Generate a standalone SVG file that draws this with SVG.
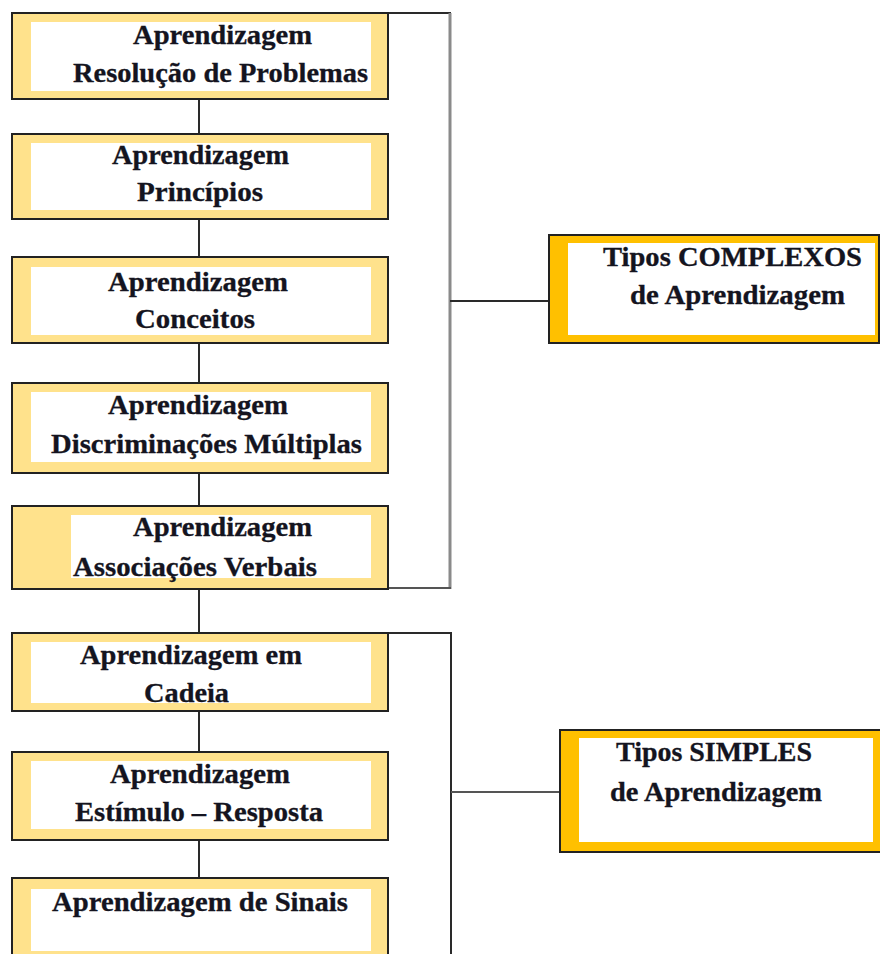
<svg xmlns="http://www.w3.org/2000/svg" width="880" height="954" viewBox="0 0 880 954">
  <style>
    .box { fill: #FFE28C; stroke: #222; stroke-width: 2; }
    .gold { fill: #FFC000; stroke: #222; stroke-width: 2; }
    .inner { fill: #FFFFFF; }
    .lbl { font-family: "Liberation Serif", "Times New Roman", serif; font-weight: bold; font-size: 27px; fill: #141420; stroke: #141420; stroke-width: 0.3; }
    .link { stroke: #2a2a2a; stroke-width: 2; fill: none; }
    .gray { stroke: #8a8a8a; stroke-width: 3; fill: none; }
    .grayThin { stroke: #555; stroke-width: 2; fill: none; }
  </style>

  <!-- connectors -->
  <g id="connectors">
    <!-- chain between the learning boxes -->
    <line class="link" x1="199" y1="99" x2="199" y2="134"/>
    <line class="link" x1="199" y1="219" x2="199" y2="257"/>
    <line class="link" x1="199" y1="343" x2="199" y2="383"/>
    <line class="link" x1="199" y1="473" x2="199" y2="506"/>
    <line class="link" x1="199" y1="589" x2="199" y2="633"/>
    <line class="link" x1="199" y1="711" x2="199" y2="752"/>
    <line class="link" x1="199" y1="840" x2="199" y2="878"/>
    <!-- bracket for the complex types -->
    <line class="link" x1="388" y1="13" x2="451" y2="13"/>
    <line class="gray" x1="450" y1="13" x2="450" y2="589"/>
    <line class="grayThin" x1="388" y1="588" x2="451" y2="588"/>
    <line class="link" x1="450" y1="301" x2="549" y2="301"/>
    <!-- bracket for the simple types -->
    <line class="link" x1="388" y1="633" x2="452" y2="633"/>
    <line class="link" x1="451" y1="633" x2="451" y2="960"/>
    <line class="grayThin" x1="451" y1="792" x2="560" y2="792"/>
  </g>

  <g id="resolucao">
    <rect class="box" x="12" y="13" width="376" height="86"/>
    <rect class="inner" x="31" y="22" width="340" height="69"/>
    <text class="lbl" x="133" y="44" textLength="179" lengthAdjust="spacingAndGlyphs">Aprendizagem</text>
    <text class="lbl" x="73" y="82" textLength="295" lengthAdjust="spacingAndGlyphs">Resolução de Problemas</text>
  </g>

  <g id="principios">
    <rect class="box" x="12" y="134" width="376" height="85"/>
    <rect class="inner" x="31" y="143" width="340" height="67"/>
    <text class="lbl" x="112" y="164" textLength="177" lengthAdjust="spacingAndGlyphs">Aprendizagem</text>
    <text class="lbl" x="137" y="201" textLength="126" lengthAdjust="spacingAndGlyphs">Princípios</text>
  </g>

  <g id="conceitos">
    <rect class="box" x="12" y="257" width="376" height="86"/>
    <rect class="inner" x="31" y="267" width="340" height="68"/>
    <text class="lbl" x="108" y="291" textLength="180" lengthAdjust="spacingAndGlyphs">Aprendizagem</text>
    <text class="lbl" x="135" y="328" textLength="120" lengthAdjust="spacingAndGlyphs">Conceitos</text>
  </g>

  <g id="discriminacoes">
    <rect class="box" x="12" y="383" width="376" height="90"/>
    <rect class="inner" x="31" y="392" width="340" height="70"/>
    <text class="lbl" x="108" y="414" textLength="180" lengthAdjust="spacingAndGlyphs">Aprendizagem</text>
    <text class="lbl" x="51" y="453" textLength="311" lengthAdjust="spacingAndGlyphs">Discriminações Múltiplas</text>
  </g>

  <g id="associacoes">
    <rect class="box" x="12" y="506" width="376" height="83"/>
    <rect class="inner" x="71" y="515" width="300" height="63"/>
    <text class="lbl" x="133" y="536" textLength="179" lengthAdjust="spacingAndGlyphs">Aprendizagem</text>
    <text class="lbl" x="73" y="576" textLength="244" lengthAdjust="spacingAndGlyphs">Associações Verbais</text>
  </g>

  <g id="cadeia">
    <rect class="box" x="12" y="633" width="376" height="78"/>
    <rect class="inner" x="31" y="642" width="340" height="61"/>
    <text class="lbl" x="80" y="664" textLength="222" lengthAdjust="spacingAndGlyphs">Aprendizagem em</text>
    <text class="lbl" x="144" y="702" textLength="85" lengthAdjust="spacingAndGlyphs">Cadeia</text>
  </g>

  <g id="estimulo">
    <rect class="box" x="12" y="752" width="376" height="88"/>
    <rect class="inner" x="31" y="761" width="340" height="68"/>
    <text class="lbl" x="110" y="783" textLength="180" lengthAdjust="spacingAndGlyphs">Aprendizagem</text>
    <text class="lbl" x="75" y="821" textLength="248" lengthAdjust="spacingAndGlyphs">Estímulo – Resposta</text>
  </g>

  <g id="sinais">
    <rect class="box" x="12" y="878" width="376" height="90"/>
    <rect class="inner" x="31" y="889" width="340" height="62"/>
    <text class="lbl" x="52" y="911" textLength="296" lengthAdjust="spacingAndGlyphs">Aprendizagem de Sinais</text>
  </g>

  <g id="complexos">
    <rect class="gold" x="549" y="235" width="330" height="108"/>
    <rect class="inner" x="568" y="243" width="307" height="92"/>
    <text class="lbl" x="603" y="266" textLength="259" lengthAdjust="spacingAndGlyphs">Tipos COMPLEXOS</text>
    <text class="lbl" x="630" y="304" textLength="215" lengthAdjust="spacingAndGlyphs">de Aprendizagem</text>
  </g>

  <g id="simples">
    <rect class="gold" x="560" y="730" width="330" height="122"/>
    <rect class="inner" x="579" y="738" width="294" height="104"/>
    <text class="lbl" x="616" y="761" textLength="196" lengthAdjust="spacingAndGlyphs">Tipos SIMPLES</text>
    <text class="lbl" x="610" y="801" textLength="212" lengthAdjust="spacingAndGlyphs">de Aprendizagem</text>
  </g>
</svg>
